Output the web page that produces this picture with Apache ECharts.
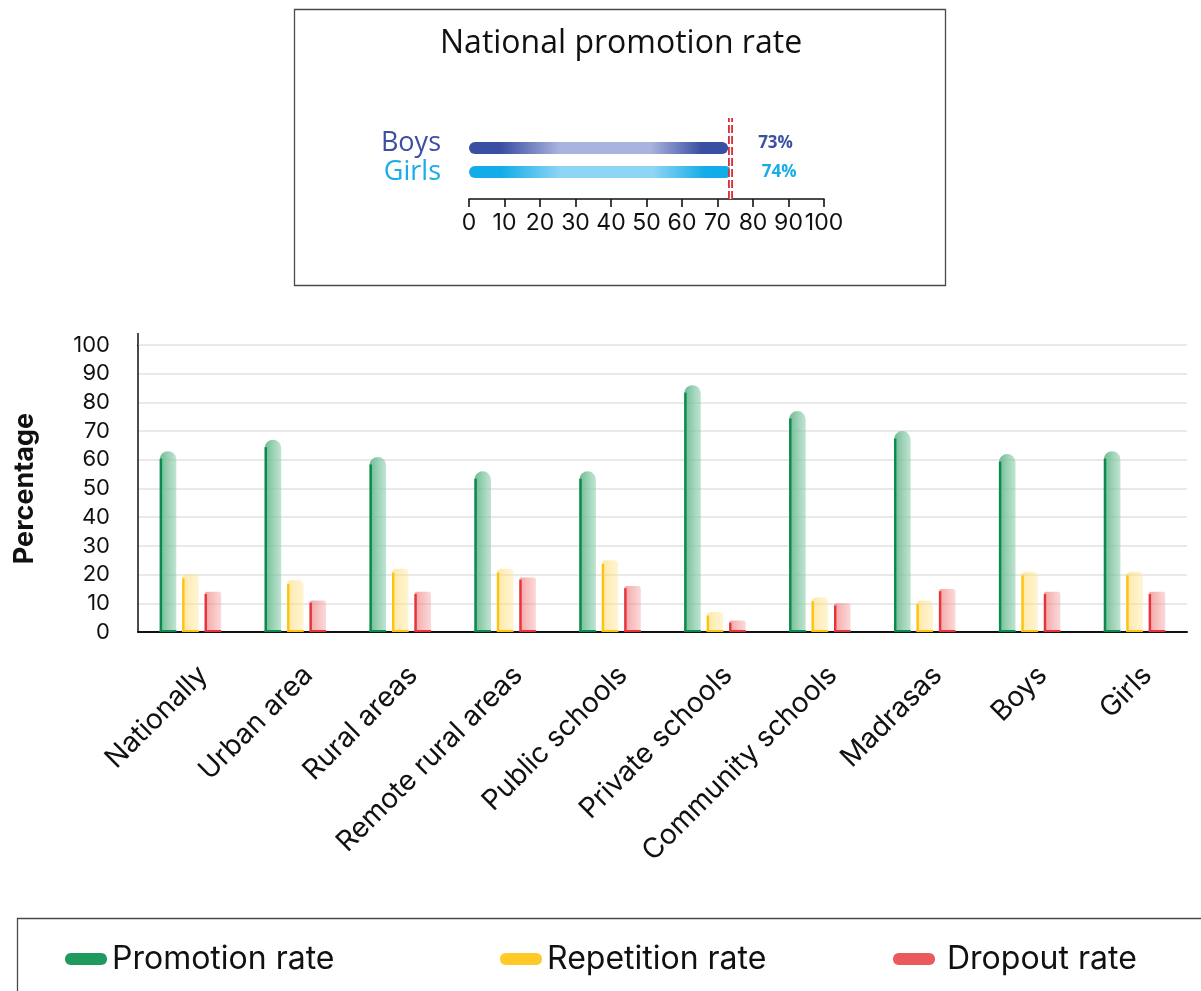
<!DOCTYPE html>
<html>
<head>
<meta charset="utf-8">
<title>Promotion, repetition and dropout rates</title>
<script src="https://cdn.jsdelivr.net/npm/echarts@6/dist/echarts.min.js"></script>
<style>
  html, body { margin: 0; padding: 0; background: #ffffff; }
  #chart { width: 1201px; height: 991px; }
</style>
</head>
<body>
<div id="chart"></div>
<script>
// ---- data ----
const categories = ['Nationally', 'Urban area', 'Rural areas', 'Remote rural areas', 'Public schools',
  'Private schools', 'Community schools', 'Madrasas', 'Boys', 'Girls'];
const promotionRate = [63, 67, 61, 56, 56, 86, 77, 70, 62, 63];
const repetitionRate = [20, 18, 22, 22, 25, 7, 12, 11, 21, 21];
const dropoutRate = [14, 11, 14, 19, 16, 4, 10, 15, 14, 14];

const insetGroups = ['Boys', 'Girls'];
const insetPromotion = [73, 74];
const nationalRate = 73.5;

const seriesNames = ['Promotion rate', 'Repetition rate', 'Dropout rate'];

// ---- styling ----
const GROT = "Inter, 'Liberation Sans', Arial, sans-serif";
const HUM = "'Open Sans', 'Noto Sans', sans-serif";

const barStyles = [
  { edge: '#0b8a4b', legend: '#1f9a5c', fillA: '#6dbb92', fillB: 'rgba(140,205,172,0.55)', rTop: 0.5 },
  { edge: '#ffc20e', legend: '#ffc928', fillA: 'rgba(255,214,90,0.55)', fillB: 'rgba(255,232,160,0.45)', rTop: 0.25 },
  { edge: '#e5353b', legend: '#ea5a5c', fillA: 'rgba(238,100,100,0.6)', fillB: 'rgba(246,170,170,0.45)', rTop: 0.15 }
];

// Hand-drawn-looking grouped column: tinted body plus a strong left and bottom stroke
function columnRenderer(s) {
  const st = barStyles[s];
  return function (params, api) {
    const i = api.value(0);
    const v = api.value(1);
    const base = api.coord([i, 0]);
    const top = api.coord([i, v]);
    const bw = api.size([1, 0])[0];
    const w = bw * 0.158;
    const cx = base[0] + (s - 1) * bw * 0.214;
    const x0 = cx - w / 2;
    const h = base[1] - top[1];
    const r = Math.min(w * st.rTop, h);
    return {
      type: 'group',
      children: [
        {
          type: 'rect',
          shape: { x: x0, y: top[1], width: w, height: h, r: [r, r, 0, 0] },
          style: {
            fill: new echarts.graphic.LinearGradient(0, 0, 1, 0, [
              { offset: 0, color: st.fillA },
              { offset: 1, color: st.fillB }
            ])
          }
        },
        {
          type: 'line',
          shape: { x1: x0 + 1.2, y1: top[1] + r * 0.9, x2: x0 + 1.2, y2: base[1] - 0.5 },
          style: { stroke: st.edge, lineWidth: 2.4 }
        },
        {
          type: 'line',
          shape: { x1: x0, y1: base[1] - 1, x2: x0 + w, y2: base[1] - 1 },
          style: { stroke: st.edge, lineWidth: 2 }
        }
      ]
    };
  };
}

function pairs(arr) { return arr.map((v, i) => [i, v]); }

const capsule = 'path://M6,0 L36,0 C40,0 42,3 42,6 C42,9 40,12 36,12 L6,12 C2,12 0,9 0,6 C0,3 2,0 6,0 Z';

const insetColors = [
  { dark: '#3a4ea2', light: '#a9b3dd', label: '#3d4fa3' },
  { dark: '#12ace8', light: '#8fd5f4', label: '#17ade8' }
];

const chart = echarts.init(document.getElementById('chart'), null, { renderer: 'canvas' });

chart.setOption({
  animation: false,
  backgroundColor: '#ffffff',
  textStyle: { fontFamily: GROT, color: '#111111' },
  title: {
    text: 'National promotion rate',
    left: 435,
    top: 23,
    textStyle: { fontFamily: HUM, fontSize: 32, fontWeight: 'normal', color: '#111111' }
  },
  graphic: [
    {
      type: 'rect', silent: true,
      shape: { x: 294.5, y: 9.5, width: 651, height: 276 },
      style: { fill: 'none', stroke: '#4a4a4a', lineWidth: 1.3 }
    },
    {
      type: 'rect', silent: true,
      shape: { x: 17.5, y: 918.5, width: 1200, height: 100 },
      style: { fill: 'none', stroke: '#4a4a4a', lineWidth: 1.3 }
    },
    {
      // value axis runs a little above its top gridline
      type: 'line', silent: true,
      shape: { x1: 138, y1: 333, x2: 138, y2: 346 },
      style: { stroke: '#111111', lineWidth: 1.5 }
    }
  ],
  legend: seriesNames.map((name, k) => ({
    data: [{ name: name, icon: capsule, itemStyle: { color: barStyles[k].legend } }],
    left: [60, 495, 888][k],
    top: 938,
    itemWidth: 42,
    itemHeight: 13,
    itemGap: 10,
    selectedMode: false,
    textStyle: { fontFamily: GROT, fontSize: 32, color: '#111111', padding: [0, 0, 0, [0, 0, 7][k]] }
  })),
  grid: [
    // inset bars
    { left: 469, top: 136, width: 355, height: 48, outerBoundsMode: 'none', containLabel: false },
    // inset axis and reference line
    { left: 469, top: 118, width: 355, height: 81, outerBoundsMode: 'none', containLabel: false },
    // main column chart
    { left: 138, top: 345, right: 14, height: 287, outerBoundsMode: 'none', containLabel: false }
  ],
  xAxis: [
    { gridIndex: 0, type: 'value', min: 0, max: 100, show: false },
    {
      gridIndex: 1, type: 'value', min: 0, max: 100, interval: 10,
      axisLine: { show: true, lineStyle: { color: '#111111', width: 1.6 } },
      axisTick: { show: true, length: 8, lineStyle: { color: '#111111', width: 1.6 } },
      axisLabel: {
        fontFamily: GROT, fontSize: 23, color: '#111111', margin: 13,
        showMinLabel: true, showMaxLabel: true, hideOverlap: false
      },
      splitLine: { show: false }
    },
    {
      gridIndex: 2, type: 'category', data: categories,
      axisLine: { lineStyle: { color: '#111111', width: 2 } },
      axisTick: { show: false },
      axisLabel: {
        rotate: 45, fontFamily: GROT, fontSize: 28, color: '#111111',
        margin: 26, interval: 0, verticalAlign: 'top', lineHeight: 36
      }
    }
  ],
  yAxis: [
    {
      gridIndex: 0, type: 'category', data: insetGroups, inverse: true,
      axisLine: { show: false }, axisTick: { show: false },
      axisLabel: {
        margin: 28,
        formatter: v => (v === 'Boys' ? '{b|' + v + '}' : '{g|' + v + '}'),
        rich: {
          b: { fontFamily: HUM, fontSize: 27, color: insetColors[0].label, padding: [0, 0, 10, 0] },
          g: { fontFamily: HUM, fontSize: 27, color: insetColors[1].label }
        }
      }
    },
    { gridIndex: 1, type: 'value', min: 0, max: 1, show: false },
    {
      gridIndex: 2, type: 'value', min: 0, max: 100, interval: 10,
      name: 'Percentage', nameLocation: 'middle', nameGap: 100,
      nameTextStyle: { fontFamily: GROT, fontSize: 27, fontWeight: 'bold', color: '#111111' },
      axisLine: { show: true, lineStyle: { color: '#111111', width: 1.5 } },
      axisTick: { show: false },
      axisLabel: { fontFamily: GROT, fontSize: 22, color: '#111111', margin: 28 },
      splitLine: { lineStyle: { color: '#e2e2e2', width: 1.5 } }
    }
  ],
  series: [
    {
      type: 'bar', name: 'National promotion rate',
      xAxisIndex: 0, yAxisIndex: 0,
      barWidth: 12,
      data: insetPromotion.map((v, i) => ({
        value: v,
        itemStyle: {
          borderRadius: 6,
          color: new echarts.graphic.LinearGradient(0, 0, 1, 0, [
            { offset: 0, color: insetColors[i].dark },
            { offset: 0.12, color: insetColors[i].dark },
            { offset: 0.35, color: insetColors[i].light },
            { offset: 0.7, color: insetColors[i].light },
            { offset: 0.9, color: insetColors[i].dark },
            { offset: 1, color: insetColors[i].dark }
          ])
        },
        label: {
          show: true, position: 'right', distance: 30,
          offset: i === 0 ? [0, -5] : [0, 0],
          formatter: '{c}%',
          fontFamily: HUM, fontSize: 17, fontWeight: 'bold', color: insetColors[i].label
        }
      }))
    },
    {
      type: 'line', name: 'reference',
      xAxisIndex: 1, yAxisIndex: 1,
      data: [],
      markLine: {
        silent: true, symbol: 'none',
        label: { show: false },
        data: [
          { xAxis: nationalRate, lineStyle: { color: '#d8313e', type: [8, 3], width: 5 } },
          { xAxis: nationalRate, lineStyle: { color: '#ffffff', type: 'solid', width: 1.3 } }
        ]
      }
    },
    ...[promotionRate, repetitionRate, dropoutRate].map((arr, s) => ({
      type: 'custom',
      name: seriesNames[s],
      xAxisIndex: 2, yAxisIndex: 2,
      itemStyle: { color: barStyles[s].legend },
      encode: { x: 0, y: 1 },
      renderItem: columnRenderer(s),
      data: pairs(arr)
    }))
  ]
});
</script>
</body>
</html>
